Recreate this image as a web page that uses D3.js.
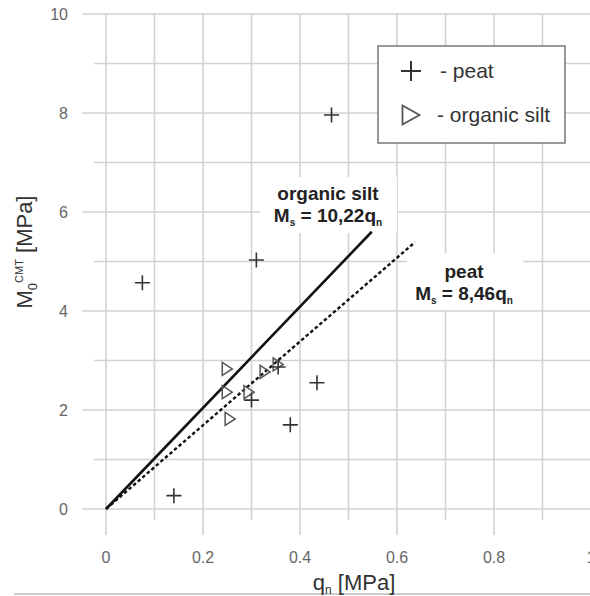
<!DOCTYPE html>
<html><head><meta charset="utf-8">
<script src="https://cdn.jsdelivr.net/npm/d3@7"></script>
<style>body{margin:0;background:#fff}svg{display:block}text{font-family:"Liberation Sans",Arial,sans-serif}</style>
</head><body>
<svg id="c" width="590" height="596"></svg>
<script>
const xTicks = [0, 0.2, 0.4, 0.6, 0.8, 1];
const xTickLabels = ["0", "0.2", "0.4", "0.6", "0.8", "1"];
const yTicks = [0, 2, 4, 6, 8, 10];
const yTickLabels = ["0", "2", "4", "6", "8", "10"];
const xMinor = [0.1, 0.3, 0.5, 0.7, 0.9];
const yMinor = [1, 3, 5, 7, 9];

const peatQ = [0.075, 0.14, 0.30, 0.31, 0.355, 0.38, 0.435, 0.465];
const peatM = [4.57, 0.27, 2.2, 5.03, 2.87, 1.70, 2.55, 7.96];
const siltQ = [0.25, 0.25, 0.256, 0.295, 0.328, 0.355];
const siltM = [2.83, 2.36, 1.82, 2.36, 2.77, 2.92];

const fitNames = ["organic silt", "peat"];
const fitSlopes = [10.22, 8.46];
const fitSlopeLabels = ["10,22", "8,46"];
const fitQmax = [0.548, 0.637];

const svg = d3.select("#c");
const x = d3.scaleLinear().domain([0, 1]).range([106, 591]);
const y = d3.scaleLinear().domain([0, 10]).range([509, 14]);
const grid = "#d2d2d2";

// grid lines
const g = svg.append("g");
yTicks.forEach(v => g.append("line").attr("x1", 82).attr("x2", 590).attr("y1", y(v)).attr("y2", y(v)).attr("stroke", grid).attr("stroke-width", 1.6));
yMinor.forEach(v => g.append("line").attr("x1", 94).attr("x2", 590).attr("y1", y(v)).attr("y2", y(v)).attr("stroke", grid).attr("stroke-width", 1.6));
xTicks.forEach(v => g.append("line").attr("x1", x(v)).attr("x2", x(v)).attr("y1", y(10)).attr("y2", 535).attr("stroke", grid).attr("stroke-width", 1.6));
xMinor.forEach(v => g.append("line").attr("x1", x(v)).attr("x2", x(v)).attr("y1", y(10)).attr("y2", 520).attr("stroke", grid).attr("stroke-width", 1.6));
svg.append("line").attr("x1", 14).attr("x2", 590).attr("y1", 594).attr("y2", 594).attr("stroke", "#bbb").attr("stroke-width", 1.5);

// tick labels
svg.selectAll(".yt").data(yTicks).enter().append("text")
  .attr("x", 68).attr("y", d => y(d)).attr("dy", "0.36em").attr("text-anchor", "end")
  .attr("font-size", 16).attr("fill", "#666").text((d, i) => yTickLabels[i]);
svg.selectAll(".xt").data(xTicks).enter().append("text")
  .attr("x", d => x(d)).attr("y", 563).attr("text-anchor", "middle")
  .attr("font-size", 16).attr("fill", "#666").text((d, i) => xTickLabels[i]);

// axis titles
const xt = svg.append("text").attr("x", 354).attr("y", 590).attr("text-anchor", "middle").attr("font-size", 22).attr("fill", "#333");
xt.append("tspan").text("q");
xt.append("tspan").attr("font-size", 12).attr("dy", 4).text("n");
xt.append("tspan").attr("dy", -4).text(" [MPa]");
const yt = svg.append("text").attr("transform", "translate(32,252) rotate(-90)").attr("text-anchor", "middle").attr("font-size", 22).attr("fill", "#333");
yt.append("tspan").text("M");
yt.append("tspan").attr("font-size", 13).attr("dy", 5).text("0");
yt.append("tspan").attr("font-size", 11).attr("dy", -14).text("CMT");
yt.append("tspan").attr("dy", 9).text(" [MPa]");

// label backgrounds
svg.append("rect").attr("x", 260).attr("y", 177).attr("width", 137).attr("height", 56).attr("fill", "#fff");
svg.append("rect").attr("x", 407).attr("y", 253).attr("width", 116).attr("height", 57).attr("fill", "#fff");

// fit lines
const line = d3.line().x(d => x(d[0])).y(d => y(d[1]));
svg.append("path").attr("d", line([[0, 0], [fitQmax[0], fitSlopes[0] * fitQmax[0]]]))
  .attr("stroke", "#111").attr("stroke-width", 2.6).attr("fill", "none");
svg.append("path").attr("d", line([[0, 0], [fitQmax[1], fitSlopes[1] * fitQmax[1]]]))
  .attr("stroke", "#111").attr("stroke-width", 2.4).attr("stroke-dasharray", "3.5,2.5").attr("fill", "none");

// markers
const plus = (sel, cx, cy, s) => sel.append("path")
  .attr("d", `M${cx - s / 2},${cy}H${cx + s / 2}M${cx},${cy - s / 2}V${cy + s / 2}`)
  .attr("stroke", "#333").attr("stroke-width", 1.6).attr("fill", "none");
const tri = (sel, cx, cy, w, h) => sel.append("path")
  .attr("d", `M${cx - w / 2},${cy - h / 2}L${cx + w / 2},${cy}L${cx - w / 2},${cy + h / 2}Z`)
  .attr("stroke", "#555").attr("stroke-width", 1.5).attr("fill", "none");

siltQ.forEach((q, i) => tri(svg, x(q), y(siltM[i]), 10, 13));
peatQ.forEach((q, i) => plus(svg, x(q), y(peatM[i]), 15));

// fit labels
const lab = (cx, y1, name, slope) => {
  svg.append("text").attr("x", cx).attr("y", y1).attr("text-anchor", "middle").attr("font-size", 19).attr("font-weight", "bold").attr("fill", "#222").text(name);
  const t = svg.append("text").attr("x", cx).attr("y", y1 + 22).attr("text-anchor", "middle").attr("font-size", 19).attr("font-weight", "bold").attr("fill", "#222");
  t.append("tspan").text("M");
  t.append("tspan").attr("font-size", 10).attr("dy", 4).text("s");
  t.append("tspan").attr("dy", -4).text(" = " + slope + "q");
  t.append("tspan").attr("font-size", 10).attr("dy", 4).text("n");
};
lab(328, 200, fitNames[0], fitSlopeLabels[0]);
lab(464, 278, fitNames[1], fitSlopeLabels[1]);

// legend
svg.append("rect").attr("x", 378).attr("y", 46).attr("width", 187).attr("height", 97).attr("fill", "#fff").attr("stroke", "#777").attr("stroke-width", 1.5);
plus(svg, 411, 71, 20).attr("stroke-width", 2);
tri(svg, 411, 115, 17, 19).attr("stroke-width", 1.8);
svg.append("text").attr("x", 440).attr("y", 78).attr("font-size", 21).attr("fill", "#333").text("- peat");
svg.append("text").attr("x", 437).attr("y", 122).attr("font-size", 21).attr("fill", "#333").text("- organic silt");
</script>
</body></html>
